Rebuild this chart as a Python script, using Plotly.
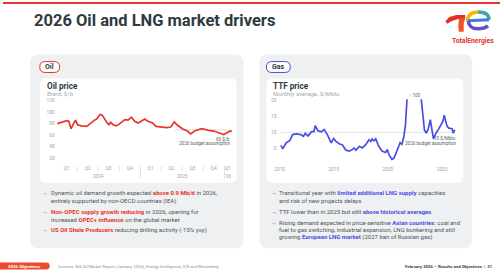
import plotly.graph_objects as go

W, H = 500, 270

# ---------------- data ----------------
oil_dates = ["2024-01-05", "2024-01-12", "2024-02-02", "2024-02-16", "2024-02-24", "2024-03-05", "2024-03-16",
             "2024-03-24", "2024-04-02", "2024-04-19", "2024-05-12", "2024-05-24", "2024-06-03", "2024-06-15",
             "2024-06-24", "2024-07-09", "2024-07-17", "2024-07-23", "2024-08-01", "2024-08-09", "2024-08-18",
             "2024-08-24", "2024-09-04", "2024-09-18", "2024-09-30", "2024-10-10", "2024-10-25", "2024-11-08",
             "2024-11-22", "2024-12-07", "2024-12-21", "2025-01-04", "2025-01-19", "2025-02-02", "2025-02-23",
             "2025-03-09", "2025-04-07", "2025-04-24", "2025-05-13", "2025-05-28", "2025-06-11", "2025-07-02",
             "2025-07-24", "2025-08-07", "2025-08-28", "2025-09-26", "2025-10-25", "2025-11-16", "2025-12-07",
             "2025-12-29", "2026-01-12", "2026-01-26", "2026-02-02"]
oil_values = [80, 81, 84, 85, 84, 71, 80,
              86, 78, 76, 75, 78, 82, 86,
              88, 96, 95, 92, 86, 81, 78,
              82, 78, 76, 79, 82, 87, 86,
              91, 84, 81, 84, 88, 84, 81,
              75, 74, 73, 74, 83, 77, 71,
              67, 62, 68, 71, 68, 67, 64,
              61, 64, 67, 66]
oil_yticks = [20, 40, 60, 80, 100, 120]
quarter_mid = ["2024-02-15", "2024-05-16", "2024-08-15", "2024-11-15", "2025-02-14", "2025-05-16",
               "2025-08-15", "2025-11-15", "2026-01-15"]
quarter_labels = ["Q1", "Q2", "Q3", "Q4", "Q1", "Q2", "Q3", "Q4", "Q1"]
quarter_bounds = ["2024-04-01", "2024-07-01", "2024-10-01", "2025-04-01", "2025-07-01", "2025-10-01"]
year_bounds = ["2025-01-01", "2026-01-01"]
year_mid = ["2024-07-01", "2025-07-01", "2026-01-15"]
year_labels = ["2024", "2025", "'26"]
oil_budget_label = "60 $/b"
oil_guide_level = 69   # where the grey guide is drawn in the reference picture

gas_dates = ["2010-02-15", "2010-04-15", "2010-08-15", "2010-12-15", "2011-03-15", "2011-07-15", "2011-12-15",
             "2012-03-15", "2012-05-15", "2012-08-15", "2012-12-15", "2013-03-01", "2013-04-15", "2013-07-15",
             "2013-11-15", "2014-02-15", "2014-06-15", "2014-10-01", "2015-01-01", "2015-03-15", "2015-07-15",
             "2015-10-15", "2016-02-15", "2016-06-15", "2016-09-15", "2016-11-15", "2017-01-15", "2017-05-15",
             "2017-08-15", "2017-12-15", "2018-04-01", "2018-06-01", "2018-07-15", "2018-09-15", "2018-11-15",
             "2019-03-01", "2019-06-15", "2019-10-15", "2019-12-15", "2020-02-01", "2020-05-15", "2020-07-15",
             "2020-09-15", "2020-11-15", "2021-01-01", "2021-02-15", "2021-04-15", "2021-06-15", "2021-08-15",
             "2021-10-15", "2021-12-15", "2022-03-15", "2022-06-15", "2022-08-15", "2022-10-15", "2022-12-15",
             "2023-02-01", "2023-04-01", "2023-05-15", "2023-07-15", "2023-09-15", "2023-12-01", "2024-01-15",
             "2024-03-15", "2024-05-15", "2024-07-15", "2024-09-15", "2024-11-01", "2025-02-01", "2025-03-15",
             "2025-06-15", "2025-08-15", "2025-12-01", "2026-01-15", "2026-03-01"]
gas_values = [6.0, 4.9, 6.8, 7.5, 9.3, 9.5, 9.3,
              8.8, 9.7, 8.9, 10.2, 10.2, 12.1, 10.5,
              10.2, 10.9, 9.0, 6.8, 8.1, 7.2, 6.4,
              6.2, 4.5, 4.2, 4.7, 5.2, 4.5, 5.7,
              5.2, 6.2, 7.7, 7.2, 8.0, 7.4, 8.0,
              5.7, 4.2, 3.8, 4.7, 3.2, 1.7, 2.0,
              3.2, 4.7, 5.7, 6.8, 6.3, 8.4, 12.3,
              30.0, 40.0, 45.0, 35.0, 70.0, 40.0, 35.0,
              20.0, 14.6, 10.8, 9.8, 10.8, 13.9, 10.8,
              8.0, 9.3, 10.2, 10.8, 11.9, 13.5, 15.3,
              11.9, 11.3, 11.1, 9.7, 10.8]
gas_yticks = [5, 10, 15, 20]
gas_xtickvals = ["2010-01-01", "2015-01-01", "2020-01-01", "2025-01-01"]
gas_xticklabels = ["2010", "2015", "2020", "2025"]
gas_budget = 10

# ---------------- helpers ----------------
def px(x):
    return x / W

def py(y):
    return 1 - y / H

def rrect(x0, y0, x1, y1, r):
    return (f"M {px(x0 + r)},{py(y0)} L {px(x1 - r)},{py(y0)} Q {px(x1)},{py(y0)} {px(x1)},{py(y0 + r)} "
            f"L {px(x1)},{py(y1 - r)} Q {px(x1)},{py(y1)} {px(x1 - r)},{py(y1)} "
            f"L {px(x0 + r)},{py(y1)} Q {px(x0)},{py(y1)} {px(x0)},{py(y1 - r)} "
            f"L {px(x0)},{py(y0 + r)} Q {px(x0)},{py(y0)} {px(x0 + r)},{py(y0)} Z")

def ppath(pts, close=True):
    s = "M " + " L ".join(f"{px(a)},{py(b)}" for a, b in pts)
    return s + (" Z" if close else "")

FONT = "Roboto"
DARK = "#2e3a40"
TEXT = "#4a5459"
GREY = "#9aa2a7"
RED = "#e8352c"
BLUE = "#4b4fe0"
PANEL = "#eef0f1"

fig = go.Figure()

fig.add_trace(go.Scatter(x=oil_dates, y=oil_values, mode="lines", xaxis="x", yaxis="y",
                         line=dict(color=RED, width=1.7), hoverinfo="skip", showlegend=False))
fig.add_trace(go.Scatter(x=gas_dates, y=gas_values, mode="lines", xaxis="x2", yaxis="y2",
                         line=dict(color=BLUE, width=1.7), hoverinfo="skip", showlegend=False))

shapes = []
shapes.append(dict(type="rect", xref="paper", yref="paper", x0=0, x1=1, y0=py(2), y1=1,
                   fillcolor=RED, line=dict(width=0), layer="below"))
shapes.append(dict(type="path", xref="paper", yref="paper", path=rrect(27, 53, 242, 248, 9),
                   fillcolor=PANEL, line=dict(width=0), layer="below"))
shapes.append(dict(type="path", xref="paper", yref="paper", path=rrect(258, 53, 472, 248, 9),
                   fillcolor=PANEL, line=dict(width=0), layer="below"))
shapes.append(dict(type="path", xref="paper", yref="paper", path=rrect(37, 77, 235, 182, 6),
                   fillcolor="white", line=dict(width=0), layer="below"))
shapes.append(dict(type="path", xref="paper", yref="paper", path=rrect(265, 77, 463, 182, 6),
                   fillcolor="white", line=dict(width=0), layer="below"))
shapes.append(dict(type="path", xref="paper", yref="paper", path=rrect(37, 60, 57, 71, 5.5),
                   fillcolor="white", line=dict(width=1, color=RED), layer="below"))
shapes.append(dict(type="path", xref="paper", yref="paper", path=rrect(265, 60, 289, 71, 5.5),
                   fillcolor="white", line=dict(width=1, color=BLUE), layer="below"))
shapes.append(dict(type="path", xref="paper", yref="paper", path=rrect(-6, 262.5, 47, 269.5, 3.5),
                   fillcolor="#ee4b2b", line=dict(width=0), layer="below"))

shapes.append(dict(type="line", xref="x", yref="y", x0="2025-06-01", x1=oil_dates[-1],
                   y0=oil_guide_level, y1=oil_guide_level, line=dict(color="#cfd4d7", width=0.8), layer="below"))
shapes.append(dict(type="line", xref="x2", yref="y2", x0=gas_dates[0], x1=gas_dates[-1],
                   y0=gas_budget, y1=gas_budget, line=dict(color="#d6dadc", width=0.8), layer="below"))

for d in quarter_bounds:
    shapes.append(dict(type="line", xref="x", yref="paper", x0=d, x1=d, y0=py(165.7), y1=py(170.7),
                       line=dict(color="#c9ced1", width=0.6)))
for d in year_bounds:
    shapes.append(dict(type="line", xref="x", yref="paper", x0=d, x1=d, y0=py(165.7), y1=py(178.3),
                       line=dict(color="#c9ced1", width=0.6)))

# logo (approximation)
shapes.append(dict(type="path", xref="paper", yref="paper",
                   path=ppath([(445, 19.5), (449, 15), (456, 13), (465, 13), (465, 17.5), (457, 17.5), (451, 19.5), (447, 22)]),
                   fillcolor="#e63027", line=dict(width=0)))
shapes.append(dict(type="path", xref="paper", yref="paper",
                   path=ppath([(459, 16), (465, 16), (463.5, 22), (463.5, 30), (458.5, 30), (458, 23)]),
                   fillcolor="#f0522a", line=dict(width=0)))
shapes.append(dict(type="path", xref="paper", yref="paper",
                   path=f"M {px(467)},{py(19)} Q {px(468)},{py(10)} {px(478)},{py(10)}",
                   line=dict(color="#f7b500", width=3.5)))
shapes.append(dict(type="path", xref="paper", yref="paper",
                   path=f"M {px(478)},{py(10)} Q {px(489)},{py(10)} {px(489)},{py(18)}",
                   line=dict(color="#3fa9a0", width=3.5)))
shapes.append(dict(type="path", xref="paper", yref="paper",
                   path=f"M {px(489)},{py(18)} L {px(468)},{py(19)}",
                   line=dict(color="#3a7fd0", width=3)))
shapes.append(dict(type="path", xref="paper", yref="paper",
                   path=f"M {px(468)},{py(19)} Q {px(469)},{py(27)} {px(478)},{py(27)} Q {px(484)},{py(27)} {px(488)},{py(24)}",
                   line=dict(color="#6a4bc4", width=3.5)))

annotations = []

def txt(x, y, text, size, color=TEXT, anchor="left", bold=False, family=FONT, yanchor="middle"):
    annotations.append(dict(xref="paper", yref="paper", x=px(x), y=py(y), text=("<b>%s</b>" % text) if bold else text,
                            showarrow=False, xanchor=anchor, yanchor=yanchor,
                            font=dict(family=family, size=size, color=color)))

txt(29.5, 18.5, "2026 Oil and LNG market drivers", 16.5, DARK, bold=True)
txt(495.5, 39.5, "TotalEnergies", 6.8, "#e4322b", anchor="right", bold=True)

txt(47, 65.5, "Oil", 7, DARK, anchor="center", bold=True)
txt(277, 65.5, "Gas", 7, DARK, anchor="center", bold=True)

txt(42, 85, "Oil price", 8.2, DARK, bold=True)
txt(42, 92.2, "Brent, $/b", 6, "#a3abb0")
txt(270, 85, "TTF price", 8.2, DARK, bold=True)
txt(270, 92.2, "Monthly average, $/Mbtu", 6, "#a3abb0")

txt(230, 137.7, oil_budget_label, 4.6, "#5a6368", anchor="right")
txt(230, 142.7, "2026 budget assumption", 4.6, "#5a6368", anchor="right")
txt(458, 137.3, "10 $/Mbtu", 4.6, "#5a6368", anchor="right")
txt(458, 142.3, "2026 budget assumption", 4.6, "#5a6368", anchor="right")
txt(414, 94.3, "\u2191 100", 4.6, "#5a6368", anchor="center")

for d, lab in zip(year_mid, year_labels):
    annotations.append(dict(xref="x", yref="paper", x=d, y=py(176), text=lab, showarrow=False,
                            xanchor="center", yanchor="middle", font=dict(family=FONT, size=4.6, color=GREY)))

def R(t):
    return f"<b><span style='color:{RED}'>{t}</span></b>"

def B(t):
    return f"<b><span style='color:{BLUE}'>{t}</span></b>"

BS = 6.0
txt(37.5, 192.3, R("\u2192"), BS)
txt(46.5, 192.3, "Dynamic oil demand growth expected " + R("above 0.9 Mb/d") + " in 2026,", BS)
txt(46.5, 200.3, "entirely supported by non-OECD countries (IEA)", BS)
txt(37.5, 211, R("\u2192"), BS)
txt(46.5, 211, R("Non-OPEC supply growth reducing") + " in 2026, opening for", BS)
txt(46.5, 218.7, "increased " + R("OPEC+ influence") + " on the global market", BS)
txt(37.5, 229.3, R("\u2192"), BS)
txt(46.5, 229.3, R("US Oil Shale Producers") + " reducing drilling activity (-15% yoy)", BS)

txt(267.5, 192.3, B("\u2192"), BS)
txt(275.5, 192.3, "Transitional year with " + B("limited additional LNG supply") + " capacities", BS)
txt(275.5, 200.3, "and risk of new projects delays", BS)
txt(267.5, 211.3, B("\u2192"), BS)
txt(275.5, 211.3, "TTF lower than in 2025 but still " + B("above historical averages"), BS)
txt(267.5, 222, B("\u2192"), BS)
txt(275.5, 222, "Rising demand expected in price-sensitive " + B("Asian countries") + ": coal and", BS)
txt(275.5, 229.7, "fuel to gas switching, industrial expansion, LNG bunkering and still", BS)
txt(275.5, 237, "growing " + B("European LNG market") + " (2027 ban of Russian gas)", BS)

txt(3.5, 266, "2026 Objectives", 4.4, "white", bold=True)
txt(53.5, 266, "Sources: IEA Oil Market Report (January 2026), Energy Intelligence, ICE and Bloomberg", 4.2, "#8a9398")
txt(493.5, 266, "February 2026 \u2013 Results and Objectives  |  31", 4.3, "#3a4449", anchor="right", bold=True)

tickfont = dict(family=FONT, size=4.8, color=GREY)

fig.update_layout(
    width=W, height=H,
    margin=dict(l=0, r=0, t=0, b=0),
    paper_bgcolor="white", plot_bgcolor="rgba(0,0,0,0)",
    showlegend=False,
    shapes=shapes, annotations=annotations,
    xaxis=dict(type="date", domain=[px(53), px(232)], range=["2023-12-29", "2026-02-10"],
               tickmode="array", tickvals=quarter_mid, ticktext=quarter_labels, ticks="",
               showgrid=False, zeroline=False, showline=False, tickfont=tickfont, fixedrange=True),
    yaxis=dict(domain=[py(163), py(97)], range=[10, 124], tickmode="array", tickvals=oil_yticks,
               ticks="", showgrid=False, zeroline=False, showline=False, tickfont=tickfont, fixedrange=True),
    xaxis2=dict(type="date", domain=[px(276), px(458)], range=["2009-10-16", "2026-06-30"], anchor="y2",
                tickmode="array", tickvals=gas_xtickvals, ticktext=gas_xticklabels, ticks="",
                showgrid=False, zeroline=False, showline=False, tickfont=tickfont, fixedrange=True),
    yaxis2=dict(domain=[py(164), py(98)], range=[0, 20.2], anchor="x2", tickmode="array", tickvals=gas_yticks,
                ticks="", showgrid=False, zeroline=False, showline=False, tickfont=tickfont, fixedrange=True),
)

fig.write_html("out.html")
